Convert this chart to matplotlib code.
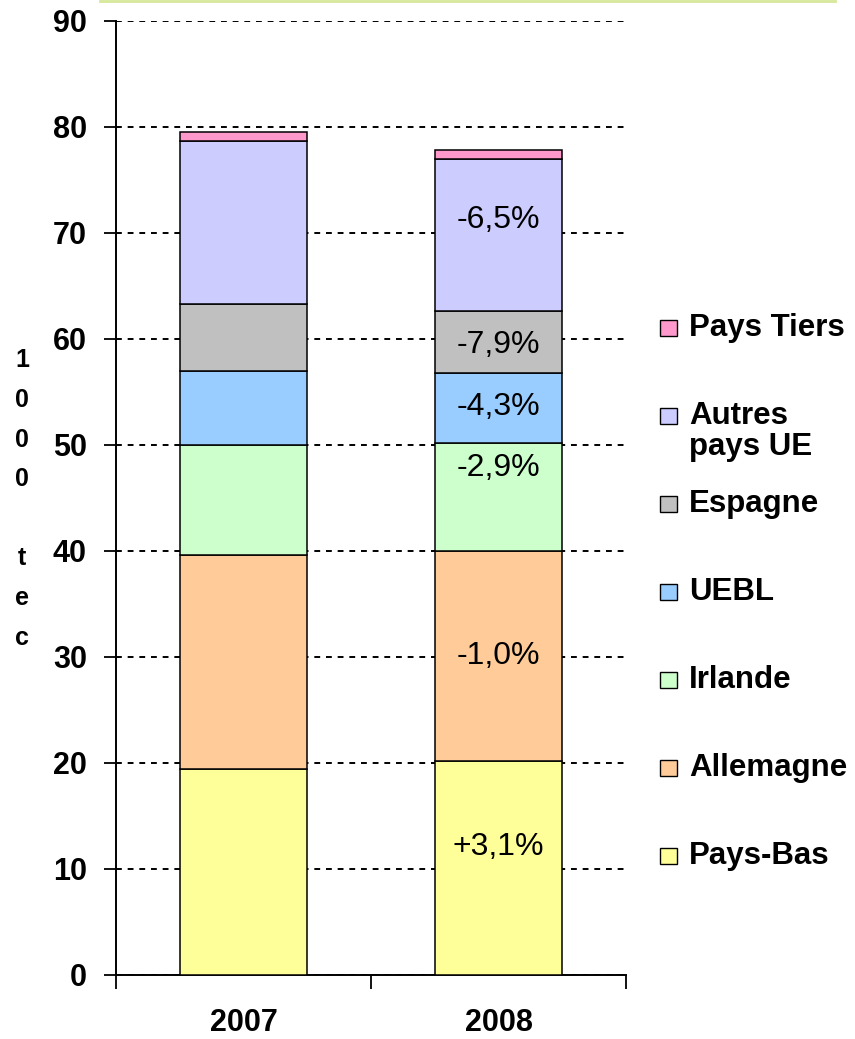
import matplotlib.pyplot as plt
from matplotlib.lines import Line2D
from matplotlib.patches import Rectangle

plt.rcParams['font.family'] = ['Liberation Sans', 'DejaVu Sans']

# Data (1000 tec), stacked from bottom to top
years = ['2007', '2008']
categories = ['Pays-Bas', 'Allemagne', 'Irlande', 'UEBL', 'Espagne',
              'Autres\npays UE', 'Pays Tiers']
pays_bas = [19.4, 20.2]
allemagne = [20.2, 19.8]
irlande = [10.4, 10.2]
uebl = [7.0, 6.6]
espagne = [6.3, 5.8]
autres_ue = [15.4, 14.4]
pays_tiers = [0.8, 0.8]
series = [pays_bas, allemagne, irlande, uebl, espagne, autres_ue, pays_tiers]
colors = ['#FFFF99', '#FFCC99', '#CCFFCC', '#99CCFF', '#C0C0C0', '#CCCCFF', '#FF99CC']

# evolution 2008/2007 shown on the 2008 bar
evol_labels = ['+3,1%', '-1,0%', '-2,9%', '-4,3%', '-7,9%', '-6,5%']
evol_y = [12.1, 30.1, 47.8, 53.6, 59.4, 71.2]

fig = plt.figure(figsize=(8.55, 10.39), dpi=100)
ax = fig.add_axes([116 / 855, 64 / 1039, 510 / 855, 954 / 1039])

x = [0, 1]
bottom = [0, 0]
for vals, col in zip(series, colors):
    ax.bar(x, vals, width=0.5, bottom=bottom, color=col,
           edgecolor='black', linewidth=1.1, zorder=3)
    bottom = [b + v for b, v in zip(bottom, vals)]

for lab, yv in zip(evol_labels, evol_y):
    ax.text(1, yv, lab, ha='center', va='center', fontsize=23, zorder=4)

ax.set_xlim(-0.5, 1.5)
ax.set_ylim(0, 90)
ax.set_yticks(range(0, 91, 10))
ax.set_xticks([-0.5, 0.5, 1.5])
ax.set_xticklabels([])
ax.set_xticks(x, minor=True)
ax.set_xticklabels(years, minor=True, fontsize=22, fontweight='bold')
ax.tick_params(axis='x', which='minor', length=0, pad=24)
ax.tick_params(axis='x', which='major', length=10, width=1.3, direction='out')
ax.tick_params(axis='y', length=9, width=1.3, direction='out', pad=12,
               labelsize=22)
for t in ax.get_yticklabels():
    t.set_fontweight('bold')

ax.yaxis.grid(True, color='black', linestyle=(0, (3, 3)), linewidth=1.4, zorder=0)
ax.set_axisbelow(True)
for s in ['top', 'right']:
    ax.spines[s].set_visible(False)
for s in ['left', 'bottom']:
    ax.spines[s].set_linewidth(1.4)

# vertical y label
fig.text(22 / 855, 1 - 499 / 1039, '1\n0\n0\n0\n\nt\ne\nc', ha='center', va='center',
         fontsize=18, fontweight='bold', linespacing=1.82)

# legend, top to bottom
for i, (name, col) in enumerate(zip(categories[::-1], colors[::-1])):
    py = 328 + 88 * i
    fig.add_artist(Rectangle((660 / 855, 1 - (py + 8) / 1039), 17 / 855, 16 / 1039,
                             transform=fig.transFigure, facecolor=col,
                             edgecolor='black', linewidth=1.0))
    fig.text(689 / 855, 1 - (py - 15) / 1039, name, ha='left', va='top',
             fontsize=22.5, fontweight='bold', linespacing=1.05)

# thin line at top of the picture
fig.add_artist(Line2D([100 / 855, 835 / 855], [0.999, 0.999],
                      transform=fig.transFigure, color='#d6e89a', linewidth=2))

fig.savefig('out.png', dpi=100)
